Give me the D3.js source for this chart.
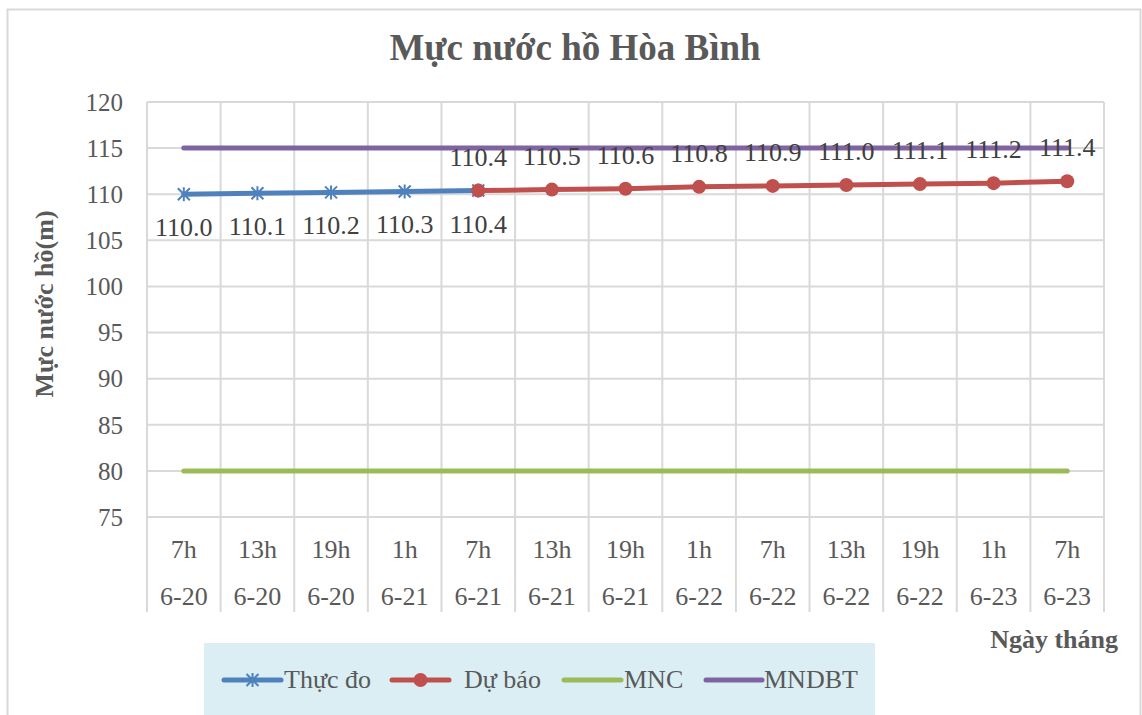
<!DOCTYPE html>
<html>
<head>
<meta charset="utf-8">
<script src="https://cdn.jsdelivr.net/npm/d3@7"></script>
<style>
  body { margin: 0; background: #fff; }
</style>
</head>
<body>
<div id="chart"></div>
<script>
// Data
const hours = ["7h", "13h", "19h", "1h", "7h", "13h", "19h", "1h", "7h", "13h", "19h", "1h", "7h"];
const dates = ["6-20", "6-20", "6-20", "6-21", "6-21", "6-21", "6-21", "6-22", "6-22", "6-22", "6-22", "6-23", "6-23"];
const thucDo = [110.0, 110.1, 110.2, 110.3, 110.4, null, null, null, null, null, null, null, null];
const duBao = [null, null, null, null, 110.4, 110.5, 110.6, 110.8, 110.9, 111.0, 111.1, 111.2, 111.4];
const mnc = [80, 80, 80, 80, 80, 80, 80, 80, 80, 80, 80, 80, 80];
const mndbt = [115, 115, 115, 115, 115, 115, 115, 115, 115, 115, 115, 115, 115];
const yTicks = [75, 80, 85, 90, 95, 100, 105, 110, 115, 120];

const W = 1142, H = 715;
const plot = { left: 147, right: 1104, top: 102, bottom: 517 };
const gridColor = "#d9d9d9";
const textColor = "#595959";
const serif = "'Liberation Serif', 'Times New Roman', Times, serif";

const svg = d3.select("#chart").append("svg")
    .attr("width", W)
    .attr("height", H)
    .attr("font-family", serif);

// outer chart border
svg.append("rect")
    .attr("x", 7.5).attr("y", 9.5)
    .attr("width", 1133).attr("height", 720)
    .attr("fill", "#fff")
    .attr("stroke", gridColor)
    .attr("stroke-width", 2);

const idx = d3.range(hours.length);
const x = d3.scaleBand().domain(idx).range([plot.left, plot.right]).padding(0);
const y = d3.scaleLinear().domain([75, 120]).range([plot.bottom, plot.top]);
const cx = i => x(i) + x.bandwidth() / 2;

// horizontal gridlines
svg.append("g")
    .selectAll("line")
    .data(yTicks)
    .enter().append("line")
    .attr("x1", plot.left).attr("x2", plot.right)
    .attr("y1", d => y(d)).attr("y2", d => y(d))
    .attr("stroke", gridColor).attr("stroke-width", 2);

// vertical category separators (extend through the category table)
svg.append("g")
    .selectAll("line")
    .data(idx.concat([hours.length]))
    .enter().append("line")
    .attr("x1", i => i < hours.length ? x(i) : plot.right)
    .attr("x2", i => i < hours.length ? x(i) : plot.right)
    .attr("y1", plot.top).attr("y2", 612)
    .attr("stroke", gridColor).attr("stroke-width", 2);

// y tick labels
svg.append("g")
    .selectAll("text")
    .data(yTicks)
    .enter().append("text")
    .attr("x", 123)
    .attr("y", d => y(d))
    .attr("dy", "0.35em")
    .attr("text-anchor", "end")
    .attr("font-size", 25)
    .attr("fill", textColor)
    .text(d => d);

// category labels (two levels)
svg.append("g")
    .selectAll("text")
    .data(idx)
    .enter().append("text")
    .attr("x", cx).attr("y", 558)
    .attr("text-anchor", "middle")
    .attr("font-size", 26)
    .attr("fill", textColor)
    .text(i => hours[i]);

svg.append("g")
    .selectAll("text")
    .data(idx)
    .enter().append("text")
    .attr("x", cx).attr("y", 605)
    .attr("text-anchor", "middle")
    .attr("font-size", 26)
    .attr("fill", textColor)
    .text(i => dates[i]);

const line = d3.line()
    .defined(d => d.v != null)
    .x(d => cx(d.i))
    .y(d => y(d.v));

const toPts = arr => arr.map((v, i) => ({ i, v }));

const colors = { thucDo: "#4f81bd", duBao: "#c0504d", mnc: "#9bbb59", mndbt: "#8064a2" };

// reference lines
[[mnc, colors.mnc], [mndbt, colors.mndbt]].forEach(([arr, c]) => {
    svg.append("path")
        .attr("d", line(toPts(arr)))
        .attr("fill", "none")
        .attr("stroke", c)
        .attr("stroke-width", 5)
        .attr("stroke-linecap", "round");
});

// Thực đo line + star markers
svg.append("path")
    .attr("d", line(toPts(thucDo)))
    .attr("fill", "none")
    .attr("stroke", colors.thucDo)
    .attr("stroke-width", 5)
    .attr("stroke-linecap", "round");

function star(g, px, py, c) {
    const s = 6;
    g.append("path")
        .attr("d", `M${px - s},${py - s}L${px + s},${py + s}M${px - s},${py + s}L${px + s},${py - s}M${px},${py - s - 1}L${px},${py + s + 1}`)
        .attr("stroke", c).attr("stroke-width", 2).attr("fill", "none");
}

const blueMarks = svg.append("g");
toPts(thucDo).filter(d => d.v != null).forEach(d => star(blueMarks, cx(d.i), y(d.v), colors.thucDo));

// Dự báo line + circle markers
svg.append("path")
    .attr("d", line(toPts(duBao)))
    .attr("fill", "none")
    .attr("stroke", colors.duBao)
    .attr("stroke-width", 5)
    .attr("stroke-linecap", "round");

svg.append("g")
    .selectAll("circle")
    .data(toPts(duBao).filter(d => d.v != null))
    .enter().append("circle")
    .attr("cx", d => cx(d.i))
    .attr("cy", d => y(d.v))
    .attr("r", 7)
    .attr("fill", colors.duBao);

// data labels
svg.append("g")
    .selectAll("text")
    .data(toPts(thucDo).filter(d => d.v != null))
    .enter().append("text")
    .attr("x", d => cx(d.i))
    .attr("y", d => y(d.v) + 42)
    .attr("text-anchor", "middle")
    .attr("font-size", 26)
    .attr("fill", "#404040")
    .text(d => d.v.toFixed(1));

svg.append("g")
    .selectAll("text")
    .data(toPts(duBao).filter(d => d.v != null))
    .enter().append("text")
    .attr("x", d => cx(d.i))
    .attr("y", d => y(d.v) - 25)
    .attr("text-anchor", "middle")
    .attr("font-size", 26)
    .attr("fill", "#404040")
    .text(d => d.v.toFixed(1));

// title
svg.append("text")
    .attr("x", 575).attr("y", 60)
    .attr("text-anchor", "middle")
    .attr("font-size", 37)
    .attr("font-weight", "bold")
    .attr("fill", textColor)
    .text("Mực nước hồ Hòa Bình");

// axis titles
svg.append("text")
    .attr("transform", "translate(53,304) rotate(-90)")
    .attr("text-anchor", "middle")
    .attr("font-size", 26)
    .attr("font-weight", "bold")
    .attr("fill", textColor)
    .text("Mực nước hồ(m)");

svg.append("text")
    .attr("x", 1118).attr("y", 648)
    .attr("text-anchor", "end")
    .attr("font-size", 26)
    .attr("font-weight", "bold")
    .attr("fill", textColor)
    .text("Ngày tháng");

// legend
const legend = svg.append("g");
legend.append("rect")
    .attr("x", 204).attr("y", 643)
    .attr("width", 671).attr("height", 80)
    .attr("fill", "#dbeef3");

const legendItems = [
    { name: "Thực đo", color: colors.thucDo, x1: 224, x2: 281, tx: 284, mark: "star" },
    { name: "Dự báo", color: colors.duBao, x1: 392, x2: 449, tx: 464, mark: "circle" },
    { name: "MNC", color: colors.mnc, x1: 564, x2: 621, tx: 624, mark: null },
    { name: "MNDBT", color: colors.mndbt, x1: 706, x2: 762, tx: 764, mark: null }
];
const ly = 680;
legendItems.forEach(d => {
    legend.append("line")
        .attr("x1", d.x1).attr("x2", d.x2)
        .attr("y1", ly).attr("y2", ly)
        .attr("stroke", d.color).attr("stroke-width", 5)
        .attr("stroke-linecap", "round");
    const mx = (d.x1 + d.x2) / 2;
    if (d.mark === "star") star(legend, mx, ly, d.color);
    if (d.mark === "circle") legend.append("circle").attr("cx", mx).attr("cy", ly).attr("r", 7).attr("fill", d.color);
    legend.append("text")
        .attr("x", d.tx).attr("y", 688)
        .attr("font-size", 26)
        .attr("fill", textColor)
        .text(d.name);
});
</script>
</body>
</html>
